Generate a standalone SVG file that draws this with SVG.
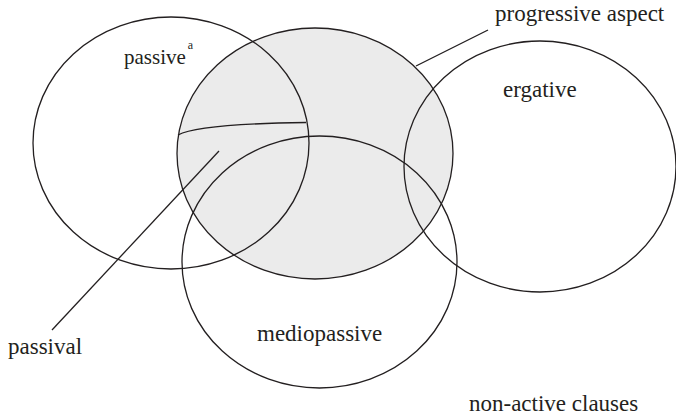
<svg xmlns="http://www.w3.org/2000/svg" width="676" height="416" viewBox="0 0 676 416">
<style>
.set{fill:none;stroke:#231f20;stroke-width:1.3}
.lbl{fill:#231f20}
.ln{fill:none;stroke:#231f20;stroke-width:1.3}
</style>
<rect width="676" height="416" fill="#fff"/>
<g id="progressive">
<ellipse cx="315" cy="153.5" rx="138" ry="125.5" fill="#ebebeb" stroke="none"/>
</g>
<g font-family="'Liberation Serif', 'Times New Roman', serif" font-size="23">
<g id="passive">
<ellipse class="set" cx="171" cy="143" rx="138" ry="126"/>
<text class="lbl" x="124" y="64" font-size="21">passive<tspan dx="2" dy="-15" font-size="12">a</tspan></text>
</g>
<g id="mediopassive">
<ellipse class="set" cx="319.5" cy="262" rx="137.5" ry="126"/>
<text class="lbl" x="257" y="341">mediopassive</text>
</g>
<g id="ergative">
<ellipse class="set" cx="540" cy="166.5" rx="136" ry="125.5"/>
<text class="lbl" x="503" y="97">ergative</text>
</g>
<g id="progressive-outline">
<ellipse class="set" cx="315" cy="153.5" rx="138" ry="125.5"/>
<text class="lbl" x="495" y="21">progressive aspect</text>
</g>
<g id="passival">
<path class="ln" d="M178,135 Q198,124 306,122.5"/>
<text class="lbl" x="8" y="354">passival</text>
</g>
<g id="nonactive">
<text class="lbl" x="469" y="411">non-active clauses</text>
</g>
</g>
<g id="connectors">
<line class="ln" x1="52" y1="330" x2="219" y2="151"/>
<line class="ln" x1="416" y1="66" x2="488" y2="30"/>
</g>
</svg>
